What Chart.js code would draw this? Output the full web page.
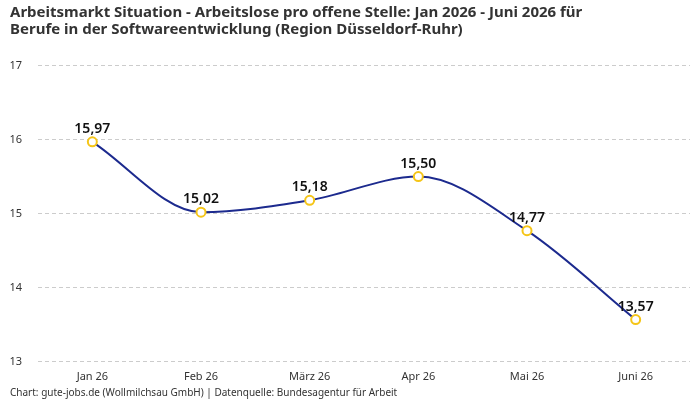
<!DOCTYPE html>
<html>
<head>
<meta charset="utf-8">
<script src="https://cdn.jsdelivr.net/npm/chart.js@4"></script>
<style>
  html, body { margin: 0; padding: 0; background: #fff; }
  #wrap { width: 700px; height: 400px; }
</style>
</head>
<body>
<div id="wrap"><canvas id="chart"></canvas></div>
<script>
let monate = ['Jan 26', 'Feb 26', 'März 26', 'Apr 26', 'Mai 26', 'Juni 26'];
let arbeitslosePro = [15.97, 15.02, 15.18, 15.50, 14.77, 13.57];
let yTicks = [13, 14, 15, 16, 17];
let quelle = 'Chart: gute-jobs.de (Wollmilchsau GmbH) | Datenquelle: Bundesagentur für Arbeit';

let schrift = "'Noto Sans', sans-serif";

// Werte über die Punkte schreiben + Quelle unten links
let wertLabels = {
    id: 'wertLabels',
    afterDatasetsDraw(chart) {
        let ctx = chart.ctx;
        let meta = chart.getDatasetMeta(0);
        ctx.save();
        ctx.font = '600 14px ' + schrift;
        ctx.fillStyle = '#111';
        ctx.textAlign = 'center';
        ctx.textBaseline = 'bottom';
        meta.data.forEach(function (p, i) {
            let txt = arbeitslosePro[i].toFixed(2).replace('.', ',');
            ctx.fillText(txt, p.x, p.y - 6);
        });
        ctx.restore();
    },
    afterDraw(chart) {
        let ctx = chart.ctx;
        ctx.save();
        ctx.font = '10px ' + schrift;
        ctx.fillStyle = '#333';
        ctx.textAlign = 'left';
        ctx.textBaseline = 'middle';
        ctx.fillText(quelle, 10, 393);
        ctx.restore();
    }
};

let ctx = document.getElementById('chart').getContext('2d');

let chart = new Chart(ctx, {
    type: 'line',
    data: {
        labels: monate,
        datasets: [{
            label: 'Arbeitslose pro offene Stelle',
            data: arbeitslosePro,
            borderColor: '#1c2a8e',
            borderWidth: 2,
            cubicInterpolationMode: 'monotone',
            pointRadius: 4.5,
            pointHoverRadius: 4.5,
            pointBorderWidth: 2,
            pointBackgroundColor: '#ffffff',
            pointBorderColor: '#f5c518',
            fill: false
        }]
    },
    options: {
        responsive: true,
        maintainAspectRatio: false,
        animation: false,
        layout: { padding: { left: 10, right: 10, top: 0, bottom: 9 } },
        plugins: {
            legend: { display: false },
            tooltip: { enabled: false },
            title: {
                display: true,
                align: 'start',
                text: ['Arbeitsmarkt Situation - Arbeitslose pro offene Stelle: Jan 2026 - Juni 2026 für',
                       'Berufe in der Softwareentwicklung (Region Düsseldorf-Ruhr)'],
                color: '#333',
                font: { family: schrift, size: 15, weight: 'bold', lineHeight: 1.15 },
                padding: { top: 4, bottom: 27 }
            }
        },
        scales: {
            x: {
                offset: true,
                grid: { display: false, drawTicks: false },
                border: { display: false },
                ticks: { color: '#333', font: { family: schrift, size: 11 }, padding: 8 }
            },
            y: {
                min: yTicks[0],
                max: yTicks[yTicks.length - 1],
                afterBuildTicks: function (axis) {
                    axis.ticks = yTicks.map(function (v) { return { value: v }; });
                },
                afterFit: function (axis) { axis.width = 28; },
                grid: { color: '#cccccc', drawTicks: false },
                border: { display: false, dash: [4, 3] },
                ticks: { color: '#333', font: { family: schrift, size: 11 }, padding: 16 }
            }
        }
    },
    plugins: [wertLabels]
});
</script>
</body>
</html>
